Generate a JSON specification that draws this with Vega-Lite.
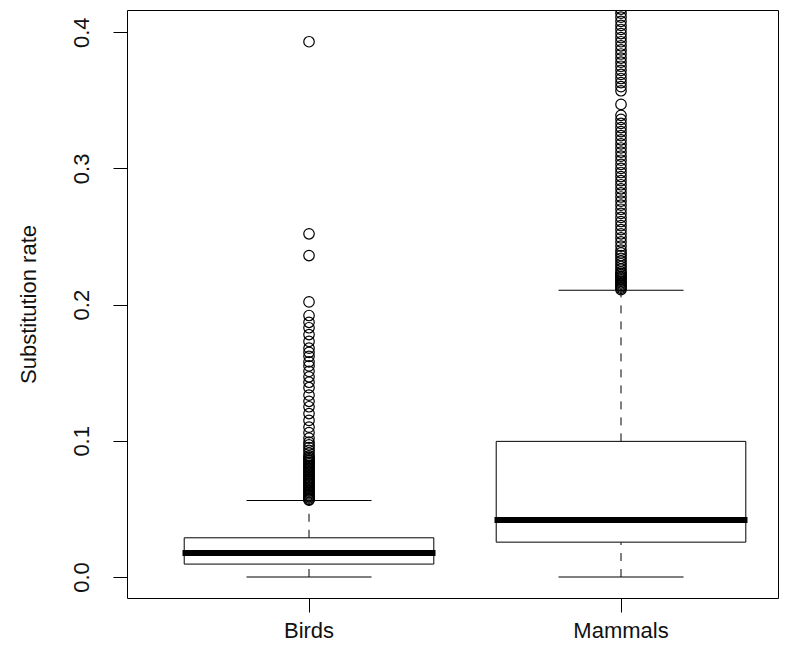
{
  "$schema": "https://vega.github.io/schema/vega-lite/v6.json",
  "autosize": "none",
  "width": 651,
  "height": 588,
  "padding": {"left": 127, "top": 10, "right": 12, "bottom": 55},
  "background": "white",
  "config": {
    "view": {"stroke": "black", "strokeWidth": 1},
    "font": "Liberation Sans",
    "axis": {"grid": false, "domain": false, "tickColor": "black", "tickSize": 14, "tickWidth": 1, "labelColor": "#111111", "labelFontSize": 22, "labelFont": "Liberation Sans", "titleFont": "Liberation Sans", "titleFontWeight": "normal", "titleFontSize": 22, "titleColor": "#111111"}
  },
  "datasets": {
    "stats": [
      {"group": "Birds", "lo": 0.0, "q1": 0.0095, "med": 0.0176, "q3": 0.0288, "hi": 0.0562},
      {"group": "Mammals", "lo": 0.0, "q1": 0.0256, "med": 0.0418, "q3": 0.0996, "hi": 0.2105}
    ],
    "outliers": [
      {"group": "Birds", "v": 0.393},
      {"group": "Birds", "v": 0.252},
      {"group": "Birds", "v": 0.236},
      {"group": "Birds", "v": 0.202},
      {"group": "Birds", "v": 0.192},
      {"group": "Birds", "v": 0.187},
      {"group": "Birds", "v": 0.183},
      {"group": "Birds", "v": 0.178},
      {"group": "Birds", "v": 0.173},
      {"group": "Birds", "v": 0.168},
      {"group": "Birds", "v": 0.165},
      {"group": "Birds", "v": 0.162},
      {"group": "Birds", "v": 0.158},
      {"group": "Birds", "v": 0.155},
      {"group": "Birds", "v": 0.151},
      {"group": "Birds", "v": 0.147},
      {"group": "Birds", "v": 0.143},
      {"group": "Birds", "v": 0.139},
      {"group": "Birds", "v": 0.1335},
      {"group": "Birds", "v": 0.129},
      {"group": "Birds", "v": 0.125},
      {"group": "Birds", "v": 0.12},
      {"group": "Birds", "v": 0.115},
      {"group": "Birds", "v": 0.11},
      {"group": "Birds", "v": 0.106},
      {"group": "Birds", "v": 0.102},
      {"group": "Birds", "v": 0.099},
      {"group": "Birds", "v": 0.097},
      {"group": "Birds", "v": 0.095},
      {"group": "Birds", "v": 0.093},
      {"group": "Birds", "v": 0.091},
      {"group": "Birds", "v": 0.089},
      {"group": "Birds", "v": 0.088},
      {"group": "Birds", "v": 0.087},
      {"group": "Birds", "v": 0.086},
      {"group": "Birds", "v": 0.085},
      {"group": "Birds", "v": 0.084},
      {"group": "Birds", "v": 0.083},
      {"group": "Birds", "v": 0.082},
      {"group": "Birds", "v": 0.081},
      {"group": "Birds", "v": 0.08},
      {"group": "Birds", "v": 0.079},
      {"group": "Birds", "v": 0.078},
      {"group": "Birds", "v": 0.077},
      {"group": "Birds", "v": 0.076},
      {"group": "Birds", "v": 0.075},
      {"group": "Birds", "v": 0.074},
      {"group": "Birds", "v": 0.073},
      {"group": "Birds", "v": 0.072},
      {"group": "Birds", "v": 0.071},
      {"group": "Birds", "v": 0.07},
      {"group": "Birds", "v": 0.069},
      {"group": "Birds", "v": 0.068},
      {"group": "Birds", "v": 0.067},
      {"group": "Birds", "v": 0.066},
      {"group": "Birds", "v": 0.065},
      {"group": "Birds", "v": 0.064},
      {"group": "Birds", "v": 0.063},
      {"group": "Birds", "v": 0.062},
      {"group": "Birds", "v": 0.061},
      {"group": "Birds", "v": 0.06},
      {"group": "Birds", "v": 0.059},
      {"group": "Birds", "v": 0.058},
      {"group": "Birds", "v": 0.057},
      {"group": "Birds", "v": 0.0565},
      {"group": "Mammals", "v": 0.211},
      {"group": "Mammals", "v": 0.212},
      {"group": "Mammals", "v": 0.213},
      {"group": "Mammals", "v": 0.214},
      {"group": "Mammals", "v": 0.215},
      {"group": "Mammals", "v": 0.216},
      {"group": "Mammals", "v": 0.217},
      {"group": "Mammals", "v": 0.218},
      {"group": "Mammals", "v": 0.219},
      {"group": "Mammals", "v": 0.22},
      {"group": "Mammals", "v": 0.221},
      {"group": "Mammals", "v": 0.222},
      {"group": "Mammals", "v": 0.223},
      {"group": "Mammals", "v": 0.224},
      {"group": "Mammals", "v": 0.226},
      {"group": "Mammals", "v": 0.228},
      {"group": "Mammals", "v": 0.23},
      {"group": "Mammals", "v": 0.232},
      {"group": "Mammals", "v": 0.234},
      {"group": "Mammals", "v": 0.236},
      {"group": "Mammals", "v": 0.238},
      {"group": "Mammals", "v": 0.24},
      {"group": "Mammals", "v": 0.243},
      {"group": "Mammals", "v": 0.246},
      {"group": "Mammals", "v": 0.249},
      {"group": "Mammals", "v": 0.252},
      {"group": "Mammals", "v": 0.255},
      {"group": "Mammals", "v": 0.258},
      {"group": "Mammals", "v": 0.261},
      {"group": "Mammals", "v": 0.264},
      {"group": "Mammals", "v": 0.267},
      {"group": "Mammals", "v": 0.27},
      {"group": "Mammals", "v": 0.273},
      {"group": "Mammals", "v": 0.276},
      {"group": "Mammals", "v": 0.279},
      {"group": "Mammals", "v": 0.282},
      {"group": "Mammals", "v": 0.285},
      {"group": "Mammals", "v": 0.288},
      {"group": "Mammals", "v": 0.291},
      {"group": "Mammals", "v": 0.294},
      {"group": "Mammals", "v": 0.297},
      {"group": "Mammals", "v": 0.3},
      {"group": "Mammals", "v": 0.303},
      {"group": "Mammals", "v": 0.306},
      {"group": "Mammals", "v": 0.309},
      {"group": "Mammals", "v": 0.312},
      {"group": "Mammals", "v": 0.315},
      {"group": "Mammals", "v": 0.318},
      {"group": "Mammals", "v": 0.321},
      {"group": "Mammals", "v": 0.324},
      {"group": "Mammals", "v": 0.327},
      {"group": "Mammals", "v": 0.33},
      {"group": "Mammals", "v": 0.333},
      {"group": "Mammals", "v": 0.336},
      {"group": "Mammals", "v": 0.339},
      {"group": "Mammals", "v": 0.347},
      {"group": "Mammals", "v": 0.357},
      {"group": "Mammals", "v": 0.36},
      {"group": "Mammals", "v": 0.363},
      {"group": "Mammals", "v": 0.366},
      {"group": "Mammals", "v": 0.369},
      {"group": "Mammals", "v": 0.372},
      {"group": "Mammals", "v": 0.375},
      {"group": "Mammals", "v": 0.378},
      {"group": "Mammals", "v": 0.381},
      {"group": "Mammals", "v": 0.384},
      {"group": "Mammals", "v": 0.387},
      {"group": "Mammals", "v": 0.39},
      {"group": "Mammals", "v": 0.393},
      {"group": "Mammals", "v": 0.396},
      {"group": "Mammals", "v": 0.399},
      {"group": "Mammals", "v": 0.402},
      {"group": "Mammals", "v": 0.405},
      {"group": "Mammals", "v": 0.408},
      {"group": "Mammals", "v": 0.411},
      {"group": "Mammals", "v": 0.414},
      {"group": "Mammals", "v": 0.417}
    ]
  },
  "encoding": {
    "x": {
      "field": "group", "type": "nominal", "sort": ["Birds", "Mammals"],
      "scale": {"type": "band", "domain": ["Birds", "Mammals"], "paddingInner": 0, "paddingOuter": 0.0433, "align": 0.963},
      "axis": {"title": null, "labelAngle": 0, "labelPadding": 8, "labelBaseline": "top"}
    }
  },
  "layer": [
    {
      "data": {"name": "stats"},
      "mark": {"type": "rule", "color": "black", "strokeWidth": 1, "strokeDash": [8, 8]},
      "encoding": {
        "y": {"field": "lo", "type": "quantitative", "scale": {"domain": [-0.0154, 0.4163], "nice": false, "zero": false},
          "axis": {"title": "Substitution rate", "values": [0, 0.1, 0.2, 0.3, 0.4], "format": ".1f", "labelAngle": -90, "labelAlign": "center", "labelBaseline": "bottom", "labelPadding": 20, "titleAngle": -90, "titleX": -99, "titleY": 294, "titleAlign": "center", "titleBaseline": "middle"}},
        "y2": {"field": "q1"}
      }
    },
    {
      "data": {"name": "stats"},
      "mark": {"type": "rule", "color": "black", "strokeWidth": 1, "strokeDash": [8, 8]},
      "encoding": {
        "y": {"field": "q3", "type": "quantitative"},
        "y2": {"field": "hi"}
      }
    },
    {
      "data": {"name": "stats"},
      "mark": {"type": "bar", "fill": "white", "stroke": "black", "strokeWidth": 1, "width": {"band": 0.8}},
      "encoding": {
        "y": {"field": "q1", "type": "quantitative"},
        "y2": {"field": "q3"}
      }
    },
    {
      "data": {"name": "stats"},
      "mark": {"type": "tick", "color": "black", "opacity": 1, "size": 125, "thickness": 1},
      "encoding": {
        "y": {"field": "lo", "type": "quantitative"}
      }
    },
    {
      "data": {"name": "stats"},
      "mark": {"type": "tick", "color": "black", "opacity": 1, "size": 125, "thickness": 1},
      "encoding": {
        "y": {"field": "hi", "type": "quantitative"}
      }
    },
    {
      "data": {"name": "stats"},
      "mark": {"type": "tick", "color": "black", "opacity": 1, "size": 253, "thickness": 6},
      "encoding": {
        "y": {"field": "med", "type": "quantitative"}
      }
    },
    {
      "data": {"name": "outliers"},
      "mark": {"type": "point", "shape": "circle", "filled": false, "stroke": "black", "strokeWidth": 1.2, "opacity": 1, "size": 110, "clip": true},
      "encoding": {
        "y": {"field": "v", "type": "quantitative"}
      }
    }
  ]
}
